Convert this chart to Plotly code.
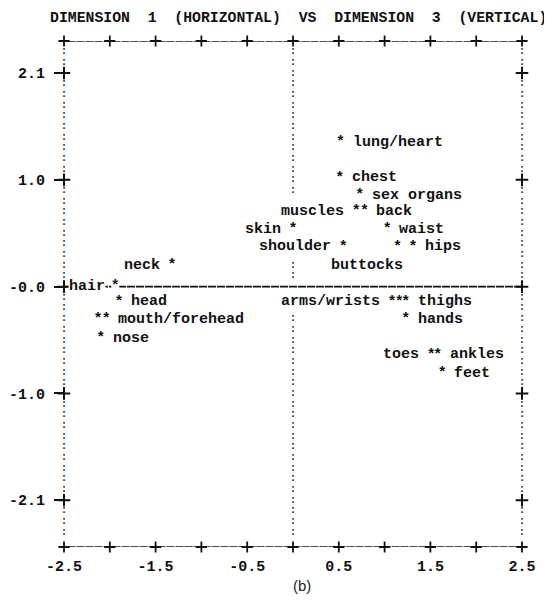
import numpy as np
import plotly.graph_objects as go

# ---------------- data ----------------
names = ["lung/heart", "chest", "sex organs", "muscles", "back", "skin", "waist",
         "shoulder", "buttocks", "hips", "neck", "hair", "head", "mouth", "forehead",
         "nose", "arms", "wrists", "thighs", "hands", "toes", "ankles", "feet"]
dim1 = [0.52, 0.51, 0.73, 0.69, 0.78, 0.00, 1.03,
        0.55, 1.14, 1.31, -1.32, -1.94, -1.90, -2.13, -2.04,
        -2.10, 1.08, 1.16, 1.23, 1.23, 1.51, 1.58, 1.63]
dim3 = [1.42, 1.07, 0.90, 0.74, 0.74, 0.56, 0.56,
        0.39, 0.39, 0.39, 0.21, 0.00, -0.15, -0.32, -0.32,
        -0.51, -0.15, -0.15, -0.15, -0.32, -0.67, -0.67, -0.85]

x_tick_vals = [-2.5, -1.5, -0.5, 0.5, 1.5, 2.5]
x_tick_text = ["-2.5", "-1.5", "-0.5", "0.5", "1.5", "2.5"]
y_tick_vals = [2.1, 1.05, 0.0, -1.05, -2.1]
y_tick_text = ["2.1", "1.0", "-0.0", "-1.0", "-2.1"]

title_text = "DIMENSION  1  (HORIZONTAL)  VS  DIMENSION  3  (VERTICAL)"
caption = "(b)"

# label text and placement (style, not data)
label_style = {
    "lung/heart": ("lung/heart", "r"), "chest": ("chest", "r"),
    "sex organs": ("sex organs", "r"), "muscles": ("muscles", "l"),
    "back": ("back", "r"), "skin": ("skin", "l"), "waist": ("waist", "r"),
    "shoulder": ("shoulder", "l"), "buttocks": ("buttocks", "b"),
    "hips": ("hips", "r"), "neck": ("neck", "l"), "hair": ("hair", "l"),
    "head": ("head", "r"), "forehead": ("mouth/forehead", "r"),
    "nose": ("nose", "r"), "arms": ("arms/wrists", "l"), "thighs": ("thighs", "r"),
    "hands": ("hands", "r"), "toes": ("toes", "l"), "ankles": ("ankles", "r"),
    "feet": ("feet", "r"),
}

MONO = "Liberation Mono"
INK = "#111111"
FS = 15
X0, X1 = -2.5, 2.5
Y_TOP, Y_BOT = 2.415, -2.56
ROW = 0.105

# figure geometry (the page adds an 8px body margin)
W, H = 544, 592
ML, MR, MT, MB = 56, 30, 33, 53
PW = W - ML - MR
PX_X = PW / (X1 - X0)                     # px per data unit (x)
PX_Y = (H - MT - MB) / (Y_TOP - Y_BOT)    # px per data unit (y)
CHAR = 0.6 * FS                           # monospace advance
GAP = 11

fig = go.Figure()

# frame lines (top, bottom, horizontal zero line)
for yy in (Y_TOP, Y_BOT):
    fig.add_trace(go.Scatter(x=[X0 - 0.06, X1 + 0.06], y=[yy, yy], mode="lines",
                             line=dict(color=INK, width=1.7, dash="8px,1px"),
                             hoverinfo="skip", cliponaxis=False))
fig.add_trace(go.Scatter(x=[X0, X1], y=[0, 0], mode="lines",
                         line=dict(color=INK, width=1.7, dash="8px,1px"),
                         hoverinfo="skip", cliponaxis=False))

# label extents (to keep the centre dotted column out from under text)
spans = []
for n, xv, yv in zip(names, dim1, dim3):
    if n not in label_style:
        continue
    txt, side = label_style[n]
    w = len(txt) * CHAR / PX_X
    if side == "r":
        a = xv + GAP / PX_X; spans.append((a, a + w, yv))
    elif side == "l":
        b = xv - GAP / PX_X; spans.append((b - w, b, yv))
    else:
        b = xv + 7 / PX_X; spans.append((b - w, b, yv - 19 / PX_Y))

# dotted ':' columns (left border, centre, right border)
rows = 2.1 - ROW * np.arange(-2, 44)
tick_rows = np.any(np.isclose(rows[:, None], np.array(y_tick_vals)[None, :], atol=1e-6), axis=1)
side_rows = rows[~tick_rows]
centre_rows = []
for r in rows:
    if abs(r) < 1e-6:
        continue
    if any(abs(yv - r) < 0.12 and abs(xv) < 0.1 for xv, yv in zip(dim1, dim3)):
        continue
    if any(abs(sy - r) < 0.12 and a - 0.03 < 0 < b + 0.03 for a, b, sy in spans):
        continue
    centre_rows.append(r)
cx = [X0] * len(side_rows) + [X1] * len(side_rows) + [0.0] * len(centre_rows)
cy = list(side_rows) * 2 + centre_rows
fig.add_trace(go.Scatter(x=cx, y=cy, mode="text", text=[":"] * len(cx),
                         textposition="middle center",
                         textfont=dict(family=MONO, size=10, color=INK, weight="bold"),
                         hoverinfo="skip", cliponaxis=False))

# '+' tick marks on the frame
xt = np.arange(X0, X1 + 0.01, 0.5)
ty = np.array(y_tick_vals)
fig.add_trace(go.Scatter(x=list(xt) * 2, y=[Y_TOP] * len(xt) + [Y_BOT] * len(xt), mode="markers",
                         marker=dict(symbol="cross-thin", size=8, line=dict(color=INK, width=1.8)),
                         hoverinfo="skip", cliponaxis=False))
fig.add_trace(go.Scatter(x=[X0] * len(ty) + [X1] * len(ty), y=list(ty) * 2, mode="markers",
                         marker=dict(symbol="cross-thin", size=9, line=dict(color=INK, width=2)),
                         hoverinfo="skip", cliponaxis=False))

# the stimuli as typewriter asterisks
fig.add_trace(go.Scatter(x=dim1, y=dim3, mode="markers+text", text=["*"] * len(names),
                         textposition="middle center",
                         textfont=dict(family=MONO, size=FS, color=INK, weight="bold"),
                         marker=dict(symbol="square", size=8, color="white"),
                         hovertext=names, hoverinfo="text", cliponaxis=False))

# labels
for n, xv, yv in zip(names, dim1, dim3):
    if n not in label_style:
        continue
    txt, side = label_style[n]
    kw = dict(x=xv, y=yv, text=txt, showarrow=False, bgcolor="white", borderpad=0,
              font=dict(family=MONO, size=FS, color=INK, weight="bold"), yanchor="middle")
    if side == "r":
        kw.update(xanchor="left", xshift=GAP)
    elif side == "l":
        kw.update(xanchor="right", xshift=-GAP + (2 if n == "hair" else 0))
    else:
        kw.update(xanchor="right", xshift=7, yshift=-19)
    fig.add_annotation(**kw)

fig.add_annotation(xref="paper", yref="paper", x=(40 - ML) / PW,
                   y=1 + MT / (H - MT - MB),
                   text=title_text, showarrow=False, xanchor="left", yanchor="top",
                   font=dict(family=MONO, size=14.8, color=INK, weight="bold"))
fig.add_annotation(xref="paper", yref="paper", x=(294 - ML) / PW, y=-0.0751,
                   text=caption, showarrow=False, xanchor="center", yanchor="middle",
                   font=dict(family="Liberation Sans", size=15, color="#222222"))

fig.update_layout(
    template="none",
    width=W, height=H, showlegend=False,
    paper_bgcolor="white", plot_bgcolor="white",
    margin=dict(l=ML, r=MR, t=MT, b=MB, autoexpand=False),
    xaxis=dict(range=[X0, X1], showgrid=False, zeroline=False, showline=False,
               automargin=False, fixedrange=True,
               tickvals=x_tick_vals, ticktext=x_tick_text, ticks="",
               ticklabelstandoff=8,
               tickfont=dict(family=MONO, size=FS, color=INK, weight="bold")),
    yaxis=dict(range=[Y_BOT, Y_TOP], showgrid=False, zeroline=False, showline=False,
               automargin=False, fixedrange=True,
               tickvals=y_tick_vals, ticktext=y_tick_text, ticks="outside",
               ticklen=9, tickwidth=2, tickcolor=INK, ticklabelstandoff=6,
               tickfont=dict(family=MONO, size=FS, color=INK, weight="bold")),
)

fig.write_html("out.html")
